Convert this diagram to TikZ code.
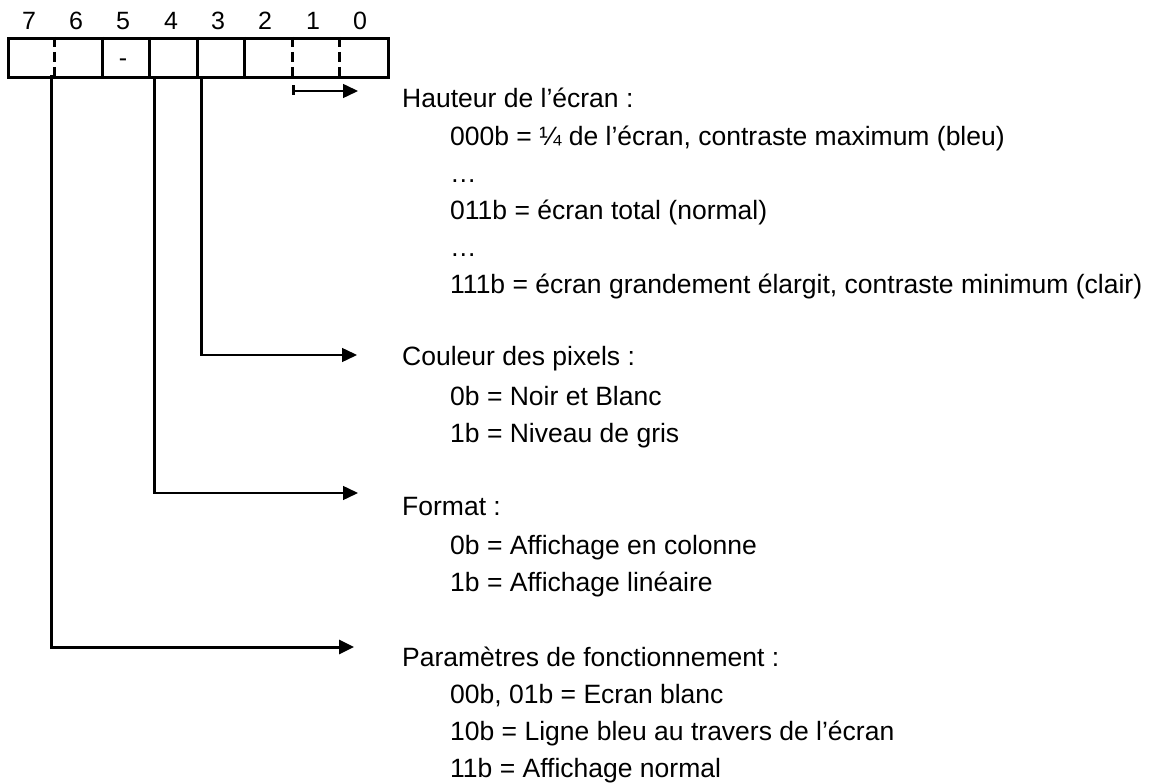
\documentclass[tikz,border=0pt]{standalone}
\usepackage{fontspec}
\setmainfont{Liberation Sans}
\usetikzlibrary{arrows.meta}
\begin{document}
\begin{tikzpicture}[x=1pt,y=-1pt,
  lbl/.style={anchor=base west, inner sep=0pt, font=\fontsize{26.5}{30}\selectfont},
  digit/.style={anchor=base, inner sep=0pt, font=\fontsize{25}{30}\selectfont},
  regbox/.style={draw, line width=3pt, minimum width=380pt, minimum height=39pt, inner sep=0pt, anchor=north west},
  soliddiv/.style={line width=3pt},
  dashdiv/.style={line width=3pt, dash pattern=on 10pt off 5pt},
  stem/.style={line width=3pt, line cap=rect},
  ray/.style={line width=1.5pt, -{Triangle[length=15pt,width=14pt]}},
]
\useasboundingbox (0,0) rectangle (1152,783);

% register
\node[regbox] (reg) at (7,37) {};
\foreach \x in {102,149.5,197,244.5} \draw[soliddiv] (\x,37) -- (\x,76);
\foreach \x in {54.5,292,339.5} \draw[dashdiv] (\x,37) -- (\x,76);

% bit numbers
\node[digit] (d7) at (29,30) {7};
\node[digit] (d6) at (76,30) {6};
\node[digit] (d5) at (123,30) {5};
\node[digit] (d4) at (171,30) {4};
\node[digit] (d3) at (218,30) {3};
\node[digit] (d2) at (265,30) {2};
\node[digit] (d1) at (313,30) {1};
\node[digit] (d0) at (360,30) {0};
\node[digit] (dash5) at (123,67) {-};

% connector points
\coordinate (s7) at (51,77);
\coordinate (k7) at (51,647);
\coordinate (t7) at (354,647);
\coordinate (s4) at (154,79);
\coordinate (k4) at (154,493);
\coordinate (t4) at (358,493);
\coordinate (s3) at (201,79);
\coordinate (k3) at (201,355);
\coordinate (t3) at (357,355);
\coordinate (k0) at (293,91);
\coordinate (t0) at (358,91);
\coordinate (k0a) at (293,87);
\coordinate (k0b) at (293,94);

% connectors
\draw[stem] (k0a) -- (k0b);
\draw[ray] (k0) -- (t0);
\draw[stem] (s3) -- (k3);
\draw[ray] (k3) -- (t3);
\draw[stem] (s4) -- (k4);
\draw[ray] (k4) -- (t4);
\draw[stem] (s7) -- (k7);
\draw[ray, line width=3pt] (k7) -- (t7);

% texts
\node[lbl] (h0) at (402,108) {Hauteur de l’écran :};
\node[lbl] (h1) at (450,145.2) {000b = ¼ de l’écran, contraste maximum (bleu)};
\node[lbl] (h2) at (450,182.4) {…};
\node[lbl] (h3) at (450,219.6) {011b = écran total (normal)};
\node[lbl] (h4) at (450,256.8) {…};
\node[lbl] (h5) at (450,294) {111b = écran grandement élargit, contraste minimum (clair)};

\node[lbl] (c0) at (402,366) {Couleur des pixels :};
\node[lbl] (c1) at (450,405.6) {0b = Noir et Blanc};
\node[lbl] (c2) at (450,442.8) {1b = Niveau de gris};

\node[lbl] (f0) at (402,515) {Format :};
\node[lbl] (f1) at (450,554.4) {0b = Affichage en colonne};
\node[lbl] (f2) at (450,591.6) {1b = Affichage linéaire};

\node[lbl] (p0) at (402,666) {Paramètres de fonctionnement :};
\node[lbl] (p1) at (450,703.2) {00b, 01b = Ecran blanc};
\node[lbl] (p2) at (450,740.4) {10b = Ligne bleu au travers de l’écran};
\node[lbl] (p3) at (450,777.6) {11b = Affichage normal};
\end{tikzpicture}
\end{document}
